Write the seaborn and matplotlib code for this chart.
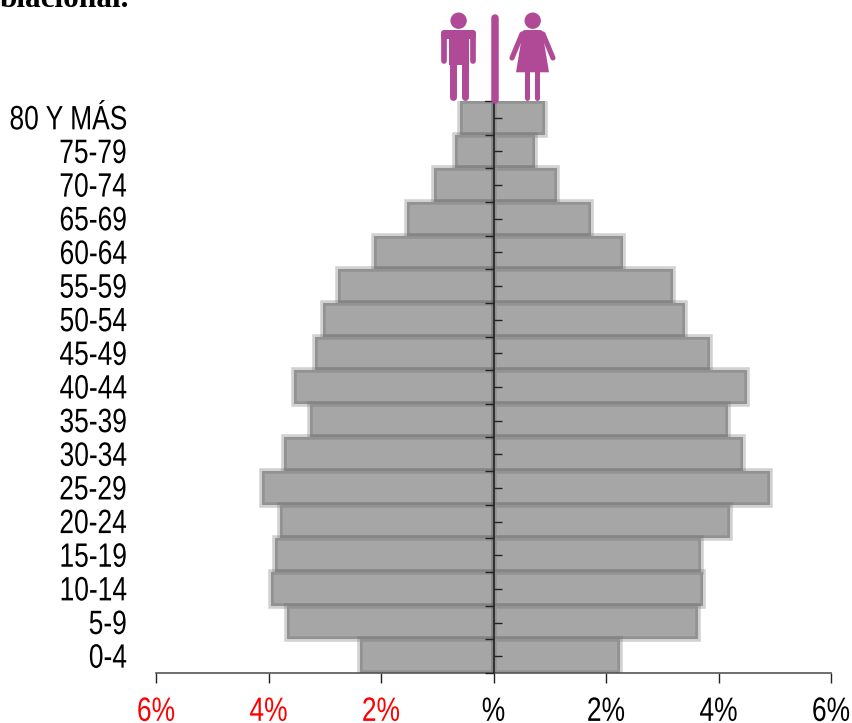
import matplotlib
matplotlib.use('Agg')
import matplotlib.pyplot as plt
import matplotlib.patches as mp
from matplotlib.patheffects import AbstractPathEffect
from matplotlib.transforms import Affine2D
import pandas as pd
import seaborn as sns

# grupos de edad, de abajo hacia arriba
grupos = ['0-4', '5-9', '10-14', '15-19', '20-24', '25-29', '30-34', '35-39', '40-44',
          '45-49', '50-54', '55-59', '60-64', '65-69', '70-74', '75-79', '80 Y MÁS']
hombres = [2.37, 3.67, 3.95, 3.89, 3.79, 4.11, 3.72, 3.27, 3.54, 3.17, 3.04, 2.77, 2.13, 1.53, 1.05, 0.69, 0.60]
mujeres = [2.25, 3.63, 3.73, 3.69, 4.20, 4.92, 4.43, 4.16, 4.51, 3.84, 3.41, 3.19, 2.31, 1.73, 1.13, 0.73, 0.92]
ticks = [-6, -4, -2, 0, 2, 4, 6]
tick_labels = ['6%', '4%', '2%', '%', '2%', '4%', '6%']
titulo = 'blacional.'

W, H = 852, 723
GRIS = '#a6a6a6'
BORDE = (103 / 255, 103 / 255, 103 / 255, 0.3)
MORADO = '#b04a97'
NEGRO = '#222222'


class Alta(AbstractPathEffect):
    # estira el texto en vertical, el original usa una letra estrecha que aqui no hay
    def __init__(self, sy, dy):
        super().__init__()
        self.sy = sy
        self.dy = dy

    def draw_path(self, renderer, gc, tpath, affine, rgbFace=None):
        t = Affine2D().scale(1, self.sy) + affine + Affine2D().translate(0, self.dy)
        renderer.draw_path(gc, tpath, t, rgbFace)


sns.set_theme(style='white')
plt.rcParams['font.family'] = ['Liberation Sans', 'DejaVu Sans']

fig = plt.figure(figsize=(W / 100, H / 100), dpi=100)
ax = fig.add_axes([156 / W, 1 - 673 / H, (831 - 156) / W, (673 - 101) / H])

orden = grupos[::-1]
df = pd.DataFrame({'grupo': grupos, 'h': [-v for v in hombres], 'm': mujeres})
for col in ['h', 'm']:
    sns.barplot(data=df, x=col, y='grupo', order=orden, orient='h', ax=ax, width=1.0,
                color=GRIS, saturation=1, edgecolor=BORDE, linewidth=4, zorder=2)

ax.set_xlim(-6, 6)
ax.set_ylim(len(grupos) - 0.5, -0.5)
ax.set_xlabel('')
ax.set_ylabel('')
for s in ['top', 'right', 'left']:
    ax.spines[s].set_visible(False)
ax.spines['bottom'].set_color('#555555')
ax.spines['bottom'].set_linewidth(1.2)
ax.spines['bottom'].set_zorder(4)

ax.set_xticks(ticks)
ax.set_xticklabels(tick_labels, fontsize=19)
ax.tick_params(axis='x', length=7, width=1, color=NEGRO, pad=3, bottom=True)
for lab, t in zip(ax.get_xticklabels(), ticks):
    lab.set_color('red' if t < 0 else 'black')
    lab.set_path_effects([Alta(1.28, -15)])

ax.set_yticks(range(len(orden)))
ax.set_yticklabels(orden, fontsize=19, color='black')
ax.tick_params(axis='y', left=False, length=0, pad=21)
for lab in ax.get_yticklabels():
    lab.set_path_effects([Alta(1.28, -2)])

# eje central con marcas alternas a cada lado
ax.axvline(0, color=NEGRO, lw=1.2, zorder=5)
for i in range(len(orden)):
    ax.plot([-0.16, 0], [i + 0.5, i + 0.5], color=NEGRO, lw=1, zorder=5, solid_capstyle='butt', clip_on=False)
    ax.plot([0, 0.15], [i, i], color=NEGRO, lw=1, zorder=5, solid_capstyle='butt')
ax.plot([-0.16, 0], [-0.5, -0.5], color=NEGRO, lw=1, zorder=5, clip_on=False)

# capa en pixeles para iconos y titulo cortado
over = fig.add_axes([0, 0, 1, 1], facecolor='none')
over.set_xlim(0, W)
over.set_ylim(H, 0)
over.axis('off')


def barra(x0, y0, x1, y1, lw):
    over.plot([x0, x1], [y0, y1], color=MORADO, lw=lw, solid_capstyle='round')


# separador
barra(494.8, 18, 494.8, 99.5, 5.4)
# hombre
over.add_patch(mp.Circle((458.6, 20.7), 7.5, color=MORADO))
over.add_patch(mp.FancyBboxPatch((441, 30), 35, 9, boxstyle='round,pad=0,rounding_size=3', color=MORADO, lw=0))
over.add_patch(mp.Rectangle((449.3, 33), 19.2, 32, color=MORADO, lw=0))
barra(443.8, 35, 443.8, 61, 4.1)
barra(473.3, 35, 473.3, 61, 4.1)
barra(453, 62, 453, 96.5, 5)
barra(464.8, 62, 464.8, 96.5, 5)
# mujer
over.add_patch(mp.Circle((532.7, 20.7), 7.5, color=MORADO))
over.add_patch(mp.FancyBboxPatch((522, 30), 21, 6, boxstyle='round,pad=0,rounding_size=3', color=MORADO, lw=0))
over.add_patch(mp.Polygon([(522.5, 33), (542.5, 33), (549, 72.3), (516, 72.3)], color=MORADO, lw=0))
barra(522, 34, 512, 58, 3.7)
barra(543, 34, 553, 58, 3.7)
barra(527, 70, 527, 98, 3.6)
barra(536.5, 70, 536.5, 98, 3.6)

over.text(0, 7, titulo, family='Liberation Serif', weight='bold', fontsize=22.5,
          color='black', va='baseline', ha='left')

fig.savefig('out.png', dpi=100)
